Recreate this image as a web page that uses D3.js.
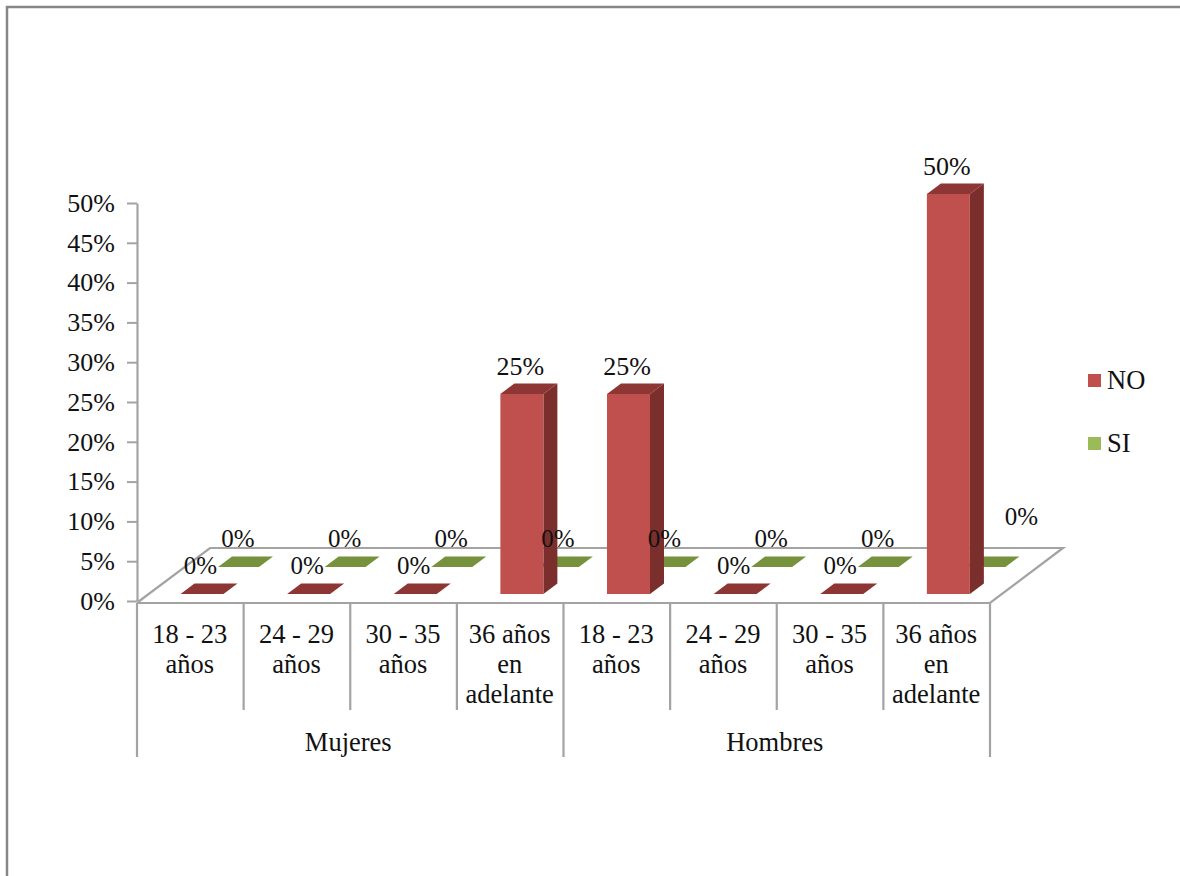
<!DOCTYPE html>
<html><head><meta charset="utf-8">
<script src="https://cdnjs.cloudflare.com/ajax/libs/d3/7.8.5/d3.min.js"></script>
<style>
html,body{margin:0;padding:0;background:#fff}
svg{display:block}
text{font-family:"Liberation Serif",serif;fill:#111}
</style></head><body>
<svg id="c" width="1180" height="876"></svg>
<script>
const groups = ["Mujeres", "Hombres"];
const categories = [
  ["18 - 23", "años"], ["24 - 29", "años"], ["30 - 35", "años"], ["36 años", "en", "adelante"],
  ["18 - 23", "años"], ["24 - 29", "años"], ["30 - 35", "años"], ["36 años", "en", "adelante"]
];
const noValues = [0, 0, 0, 25, 25, 0, 0, 50];
const siValues = [0, 0, 0, 0, 0, 0, 0, 0];
const seriesNames = ["NO", "SI"];
const yTicks = [0, 5, 10, 15, 20, 25, 30, 35, 40, 45, 50];

const svg = d3.select("#c");
const FS = 26.5, AXIS = "#a3a3a3";
const x = d3.scaleBand().domain(d3.range(categories.length)).range([137, 990]);
const y = d3.scaleLinear().domain([0, 50]).range([601, 203]);
const h = d3.scaleLinear().domain([0, 50]).range([0, 400]);
const dep = {x: 14, y: -10.5}, barW = 43;
const series = [
  {name: seriesNames[1], values: siValues, dx: 81, base: 567, w: 41, front: "#9BBB59", top: "#76923C", side: "#5f7530"},
  {name: seriesNames[0], values: noValues, dx: 43.5, base: 594, w: barW, front: "#C0504D", top: "#8E3634", side: "#7A2F2D"}
];

// frame
svg.append("path").attr("d", "M1180,7H7V876").attr("fill", "none").attr("stroke", "#868686").attr("stroke-width", 2.5);

// floor
svg.append("path").attr("d", "M138,602L210,548H1063L990,603H137").attr("fill", "none").attr("stroke", AXIS).attr("stroke-width", 2.2);

// y axis
const yAxis = d3.axisLeft(y).tickValues(yTicks).tickFormat(d => d + "%").tickSize(10).tickSizeOuter(0).tickPadding(12);
const ga = svg.append("g").attr("transform", "translate(137,0)").call(yAxis);
ga.select(".domain").attr("stroke", AXIS).attr("stroke-width", 2.2);
ga.selectAll(".tick line").attr("stroke", AXIS).attr("stroke-width", 2);
ga.selectAll(".tick text").attr("font-family", '"Liberation Serif",serif').attr("font-size", 26).attr("fill", "#111");

// category separators
const seps = d3.range(categories.length + 1);
svg.selectAll(".sep").data(seps).join("line")
  .attr("x1", i => i < categories.length ? x(i) : x.range()[1])
  .attr("x2", i => i < categories.length ? x(i) : x.range()[1])
  .attr("y1", 603).attr("y2", i => i % 4 === 0 ? 757 : 710)
  .attr("stroke", AXIS).attr("stroke-width", 2.2);

// category labels
categories.forEach((lines, i) => {
  const t = svg.append("text").attr("text-anchor", "middle").attr("font-size", FS);
  lines.forEach((l, k) => t.append("tspan").attr("x", x(i) + x.bandwidth() / 2 - 0.5).attr("y", 643 + k * 30).text(l));
});
groups.forEach((g, i) => {
  svg.append("text").attr("text-anchor", "middle").attr("font-size", FS)
    .attr("x", x(i * 4) + 2 * x.bandwidth() - 2).attr("y", 751).text(g);
});

// bars
series.forEach(s => {
  s.values.forEach((v, i) => {
    const L = x(i) + s.dx, R = L + s.w, B = s.base, T = B - h(v);
    const g = svg.append("g");
    if (v > 0) {
      g.append("path").attr("d", `M${R},${B}L${R + dep.x},${B + dep.y}V${T + dep.y}L${R},${T}Z`).attr("fill", s.side);
      g.append("rect").attr("x", L).attr("y", T).attr("width", s.w).attr("height", h(v)).attr("fill", s.front);
    }
    g.append("path").attr("d", `M${L},${T}L${L + dep.x},${T + dep.y}H${R + dep.x}L${R},${T}Z`).attr("fill", s.top);
  });
});

// data labels
series.forEach(s => {
  s.values.forEach((v, i) => {
    const last = s.name === "SI" && i === s.values.length - 1;
    const cx = x(i) + s.dx + 20 + (last ? 37 : 0);
    const cy = s.base - h(v) - 28 + (last ? -22 : 0);
    svg.append("text").attr("text-anchor", "middle").attr("font-size", v > 0 ? 26 : 25)
      .attr("x", cx).attr("y", cy + (v > 0 ? 8.5 : 7.5)).text(v + "%");
  });
});

// legend
[series[1], series[0]].forEach((s, i) => {
  const ly = 374 + i * 63;
  svg.append("rect").attr("x", 1088).attr("y", ly).attr("width", 13).attr("height", 13).attr("fill", s.front);
  svg.append("text").attr("x", 1107).attr("y", ly + 15).attr("font-size", FS).text(s.name);
});
</script>
</body></html>
